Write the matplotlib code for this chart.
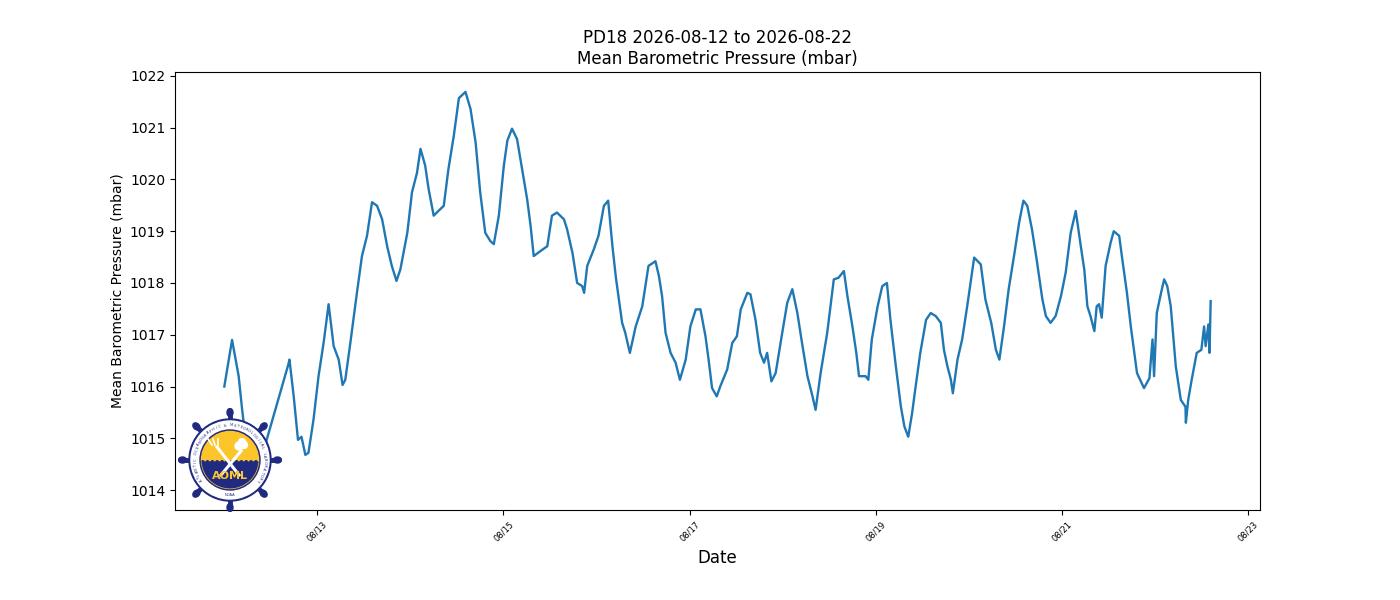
import numpy as np
import pandas as pd
import matplotlib
matplotlib.use("Agg")
import matplotlib.pyplot as plt
import matplotlib.dates as mdates
from matplotlib.patches import Circle, Ellipse

# hours since 2026-08-12 00:00 and pressure (mbar)
hours = [0.0, 2.0, 3.7, 4.6, 5.0, 7.2,
         16.6, 16.8, 17.9, 19.0, 19.9, 20.9, 21.7, 23.0, 24.3, 25.6, 26.9,
         28.2, 29.5, 30.5, 31.2, 32.5, 34.2, 35.5, 36.8, 38.1, 39.4, 40.7,
         42.0, 43.2, 44.4, 45.4, 47.2, 48.4, 49.7, 50.6, 51.8, 52.7, 54.0,
         55.2, 56.6, 57.8, 59.2, 60.5, 62.2, 63.5, 64.8, 66.0, 67.3, 68.6,
         69.5, 70.8, 72.1, 73.0, 74.2, 75.5, 76.8, 78.1, 79.0, 79.8, 81.6,
         83.3, 84.5, 85.8, 87.6, 88.4, 89.8, 91.0, 92.3, 92.8, 93.6, 95.3,
         96.5, 97.9, 99.0, 100.1, 101.0, 102.6, 103.4, 104.6, 106.1, 107.8,
         109.4, 111.2, 112.1, 112.9, 113.8, 115.1, 116.4, 117.5, 119.0,
         120.2, 121.6, 122.8, 124.1, 124.9, 125.8, 127.0, 127.9, 129.7,
         131.0, 132.2, 133.2, 134.9, 135.7, 137.0, 138.2, 139.2, 140.0,
         141.1, 142.2, 143.9, 145.2, 146.5, 147.8, 149.0, 150.4, 151.7,
         152.5, 153.8, 155.5, 157.2, 158.4, 159.8, 160.7, 162.0, 163.0,
         163.7, 165.4, 166.1, 167.0, 168.5, 169.7, 170.9, 171.8, 173.2,
         174.5, 175.4, 176.4, 177.4, 178.3, 179.5, 181.0, 182.2, 183.5,
         184.8, 185.6, 186.5, 187.4, 187.9, 189.1, 190.3, 191.6, 193.4,
         195.1, 196.3, 197.8, 199.0, 199.9, 201.1, 202.3, 203.8, 205.0,
         206.1, 207.1, 208.3, 209.5, 211.0, 211.9, 213.1, 214.4, 215.8,
         217.0, 218.3, 219.6, 220.9, 221.8, 222.6, 223.4, 224.4, 225.0,
         225.6, 226.3, 227.3, 228.6, 229.4, 230.8, 231.6, 232.8, 233.8,
         234.7, 235.4, 237.2, 238.6, 239.4, 239.8, 240.5, 241.6, 242.4,
         243.2, 244.1, 245.4, 246.7, 247.9, 248.0, 248.6, 249.5, 250.8,
         252.0, 252.7, 253.1, 253.8, 254.1, 254.4]
pressure = [1016.00, 1016.90, 1016.20, 1015.55, 1015.30, 1014.00,
            1016.45, 1016.52, 1015.81, 1014.97, 1015.03, 1014.68, 1014.72,
            1015.36, 1016.20, 1016.84, 1017.59, 1016.78, 1016.52, 1016.03,
            1016.13, 1016.84, 1017.81, 1018.52, 1018.91, 1019.56, 1019.49,
            1019.23, 1018.71, 1018.33, 1018.04, 1018.26, 1018.97, 1019.75,
            1020.13, 1020.59, 1020.27, 1019.81, 1019.30, 1019.39, 1019.49,
            1020.20, 1020.85, 1021.57, 1021.69, 1021.36, 1020.72, 1019.75,
            1018.97, 1018.81, 1018.75, 1019.30, 1020.27, 1020.75, 1020.98,
            1020.78, 1020.20, 1019.62, 1019.10, 1018.52, 1018.62, 1018.71,
            1019.30, 1019.36, 1019.23, 1019.04, 1018.58, 1018.00, 1017.94,
            1017.81, 1018.33, 1018.65, 1018.91, 1019.49, 1019.59, 1018.71,
            1018.10, 1017.23, 1017.04, 1016.65, 1017.16, 1017.55, 1018.33,
            1018.42, 1018.13, 1017.75, 1017.04, 1016.65, 1016.46, 1016.13,
            1016.52, 1017.16, 1017.49, 1017.49, 1016.97, 1016.52, 1015.97,
            1015.81, 1016.00, 1016.33, 1016.84, 1016.97, 1017.49, 1017.81,
            1017.78, 1017.29, 1016.65, 1016.46, 1016.65, 1016.10, 1016.26,
            1017.04, 1017.62, 1017.88, 1017.42, 1016.84, 1016.20, 1015.81,
            1015.55, 1016.26, 1017.04, 1018.07, 1018.10, 1018.23, 1017.75,
            1017.16, 1016.65, 1016.20, 1016.20, 1016.13, 1016.91, 1017.55,
            1017.94, 1018.00, 1017.29, 1016.39, 1015.61, 1015.23, 1015.03,
            1015.49, 1016.00, 1016.65, 1017.29, 1017.42, 1017.36, 1017.23,
            1016.71, 1016.39, 1016.13, 1015.87, 1016.52, 1016.91, 1017.55,
            1018.49, 1018.36, 1017.68, 1017.23, 1016.71, 1016.52, 1017.16,
            1017.88, 1018.58, 1019.17, 1019.59, 1019.49, 1019.04, 1018.46,
            1017.68, 1017.36, 1017.23, 1017.36, 1017.75, 1018.20, 1018.97,
            1019.39, 1018.71, 1018.26, 1017.55, 1017.36, 1017.07, 1017.55,
            1017.59, 1017.33, 1018.33, 1018.78, 1019.00, 1018.91, 1018.46,
            1017.81, 1017.16, 1016.65, 1016.26, 1015.97, 1016.16, 1016.91,
            1016.20, 1017.42, 1017.81, 1018.07, 1017.94, 1017.55, 1016.39,
            1015.74, 1015.61, 1015.30, 1015.74, 1016.13, 1016.65, 1016.71,
            1017.16, 1016.78, 1017.20, 1016.65, 1017.65]

times = pd.Timestamp("2026-08-12") + pd.to_timedelta(hours, unit="h")

fig = plt.figure(figsize=(14, 6), dpi=100)
ax = fig.add_axes([0.125, 0.15, 0.775, 0.73])
ax.plot(times, pressure, color="#1f77b4", linewidth=1.7)
ax.set_title("PD18 2026-08-12 to 2026-08-22\nMean Barometric Pressure (mbar)", fontsize=12)
ax.set_xlabel("Date", fontsize=12)
ax.set_ylabel("Mean Barometric Pressure (mbar)", fontsize=10)
ax.xaxis.set_major_locator(mdates.DayLocator(bymonthday=[13, 15, 17, 19, 21, 23]))
ax.xaxis.set_major_formatter(mdates.DateFormatter("%m/%d"))
plt.setp(ax.get_xticklabels(), rotation=45, fontsize=6)

# AOML logo (drawn approximation)
navy = "#1f2a80"
gold = "#fcc52a"
lax = fig.add_axes([178 / 1400, 88 / 600, 104 / 1400, 104 / 600], zorder=5)
lax.set_xlim(-52, 52)
lax.set_ylim(-52, 52)
lax.set_aspect("equal")
lax.axis("off")
for a in np.arange(0, 360, 45):
    ang = np.deg2rad(a)
    lax.plot([0, 46 * np.cos(ang)], [0, 46 * np.sin(ang)], color=navy, lw=3.5,
             solid_capstyle="round", zorder=0.5)
    lax.add_patch(Ellipse((47.5 * np.cos(ang), 47.5 * np.sin(ang)), 8, 6, angle=a,
                          color=navy, zorder=0.6))
lax.add_patch(Circle((0, 0), 41, color=navy, zorder=1))
lax.add_patch(Circle((0, 0), 39, color="white", zorder=1.1))
lax.add_patch(Circle((0, 0), 30, color=navy, zorder=1.2))
disc = Circle((0, 0), 28.5, color=gold, zorder=1.3)
lax.add_patch(disc)
wx = np.linspace(-30, 30, 60)
wy = -1 + 0.9 * np.sin(wx * 1.3)
lo = lax.fill_between(wx, wy, -30, color=navy, zorder=1.4)
lo.set_clip_path(disc)
lax.plot([-13, 9], [13, -15], color="white", lw=2.2, zorder=3)
lax.plot([11, -9], [9, -15], color="white", lw=2.2, zorder=3)
for dx in (-5, 0, 5):
    lax.plot([-15 + dx * 0.6, -17 + dx], [15, 21], color="white", lw=1.2, zorder=3)
lax.add_patch(Circle((9, 14), 4, color="white", zorder=3))
lax.add_patch(Circle((14, 15), 3.5, color="white", zorder=3))
lax.add_patch(Circle((12, 18), 3.5, color="white", zorder=3))
lax.text(0, -16, "AOML", color=gold, fontsize=8, fontweight="bold", ha="center",
         va="center", zorder=4)
ring = "ATLANTIC OCEANOGRAPHIC & METEOROLOGICAL LABORATORY"
angs = np.linspace(215, -35, len(ring))
for ch, a in zip(ring, angs):
    r = np.deg2rad(a)
    lax.text(34.5 * np.cos(r), 34.5 * np.sin(r), ch, fontsize=2.6, color=navy,
             ha="center", va="center", rotation=a - 90, zorder=4)
lax.text(0, -34.5, "NOAA", fontsize=2.6, color=navy, ha="center", va="center", zorder=4)

fig.savefig("out.png", dpi=100)
